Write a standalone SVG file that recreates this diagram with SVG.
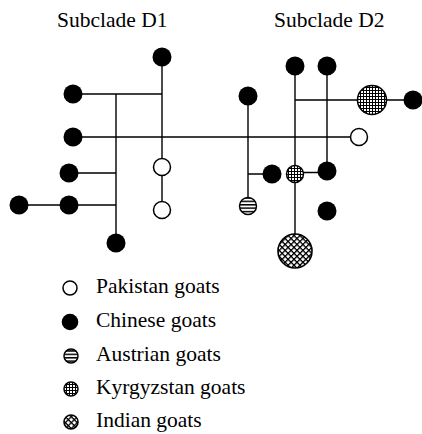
<svg xmlns="http://www.w3.org/2000/svg" width="422" height="434" viewBox="0 0 422 434">
<style>
text{font-family:"Liberation Serif","Times New Roman",serif;font-size:21.5px;fill:#000}
.e{stroke:#000;stroke-width:1.4;fill:none}
.f{fill:#000}
.o{fill:#fff;stroke:#000;stroke-width:1.5}
.h{fill:url(#hs);stroke:#000;stroke-width:1.5}
.k{fill:url(#gr);stroke:#000;stroke-width:1.5}
.i{fill:url(#dg);stroke:#000;stroke-width:1.6}
</style>
<defs>
<pattern id="hs" patternUnits="userSpaceOnUse" width="4" height="3.4">
<rect width="4" height="3.4" fill="#fff"/>
<rect y="0" width="4" height="1.5" fill="#000"/>
</pattern>
<pattern id="gr" patternUnits="userSpaceOnUse" width="3" height="3">
<rect width="3" height="3" fill="#fff"/>
<rect width="3" height="1" fill="#000"/>
<rect width="1" height="3" fill="#000"/>
</pattern>
<pattern id="dg" patternUnits="userSpaceOnUse" width="4.2" height="4.2" patternTransform="rotate(45)">
<rect width="4.2" height="4.2" fill="#fff"/>
<rect width="4.2" height="1.3" fill="#000"/>
<rect width="1.3" height="4.2" fill="#000"/>
</pattern>
</defs>
<text x="57" y="27">Subclade D1</text>
<text x="274" y="27">Subclade D2</text>
<g id="connectors">
<path class="e" d="M82 94H162M116 94V243M162 57V158M82 137H350M78 173H116M19 205H116M162 167V210"/>
<path class="e" d="M248 96V206M248 174H272M295 66V252M327 66V171M295 100H413M295 172.5H327"/>
</g>
<g id="n1"><circle class="f" cx="162" cy="57" r="9.5"/></g>
<g id="n2"><circle class="f" cx="73" cy="94" r="9.5"/></g>
<g id="n3"><circle class="f" cx="73" cy="137" r="9.5"/></g>
<g id="n4"><circle class="f" cx="69" cy="173" r="9.5"/></g>
<g id="n5"><circle class="f" cx="69" cy="205" r="9.5"/></g>
<g id="n6"><circle class="f" cx="19" cy="205" r="9.5"/></g>
<g id="n7"><circle class="f" cx="116" cy="243" r="9.5"/></g>
<g id="n8"><circle class="o" cx="162" cy="167" r="8.5"/></g>
<g id="n9"><circle class="o" cx="162" cy="210" r="8.5"/></g>
<g id="n10"><circle class="f" cx="248" cy="96" r="9.5"/></g>
<g id="n11"><circle class="h" cx="248" cy="206" r="8.5"/></g>
<g id="n12"><circle class="f" cx="272" cy="174" r="9.5"/></g>
<g id="n13"><circle class="f" cx="295" cy="66" r="9.5"/></g>
<g id="n14"><circle class="f" cx="327" cy="66" r="9.5"/></g>
<g id="n15"><circle class="k" cx="372" cy="100" r="14.5"/></g>
<g id="n16"><circle class="f" cx="413" cy="100" r="9.5"/></g>
<g id="n17"><circle class="o" cx="359" cy="137" r="8.5"/></g>
<g id="n18"><circle class="k" cx="295" cy="174" r="8.5"/></g>
<g id="n19"><circle class="f" cx="327" cy="171" r="9.5"/></g>
<g id="n20"><circle class="f" cx="327" cy="211" r="9.5"/></g>
<g id="n21"><circle class="i" cx="295" cy="251" r="17"/></g>
<g id="legend">
<circle class="o" cx="70" cy="288" r="7"/><text x="96" y="293">Pakistan goats</text>
<circle class="f" cx="70" cy="322" r="8.3"/><text x="96" y="327">Chinese goats</text>
<circle class="h" cx="71" cy="356" r="7"/><text x="96" y="361">Austrian goats</text>
<circle class="k" cx="71" cy="389" r="7"/><text x="96" y="394">Kyrgyzstan goats</text>
<circle class="i" cx="71" cy="422" r="7"/><text x="96" y="427">Indian goats</text>
</g>
</svg>
